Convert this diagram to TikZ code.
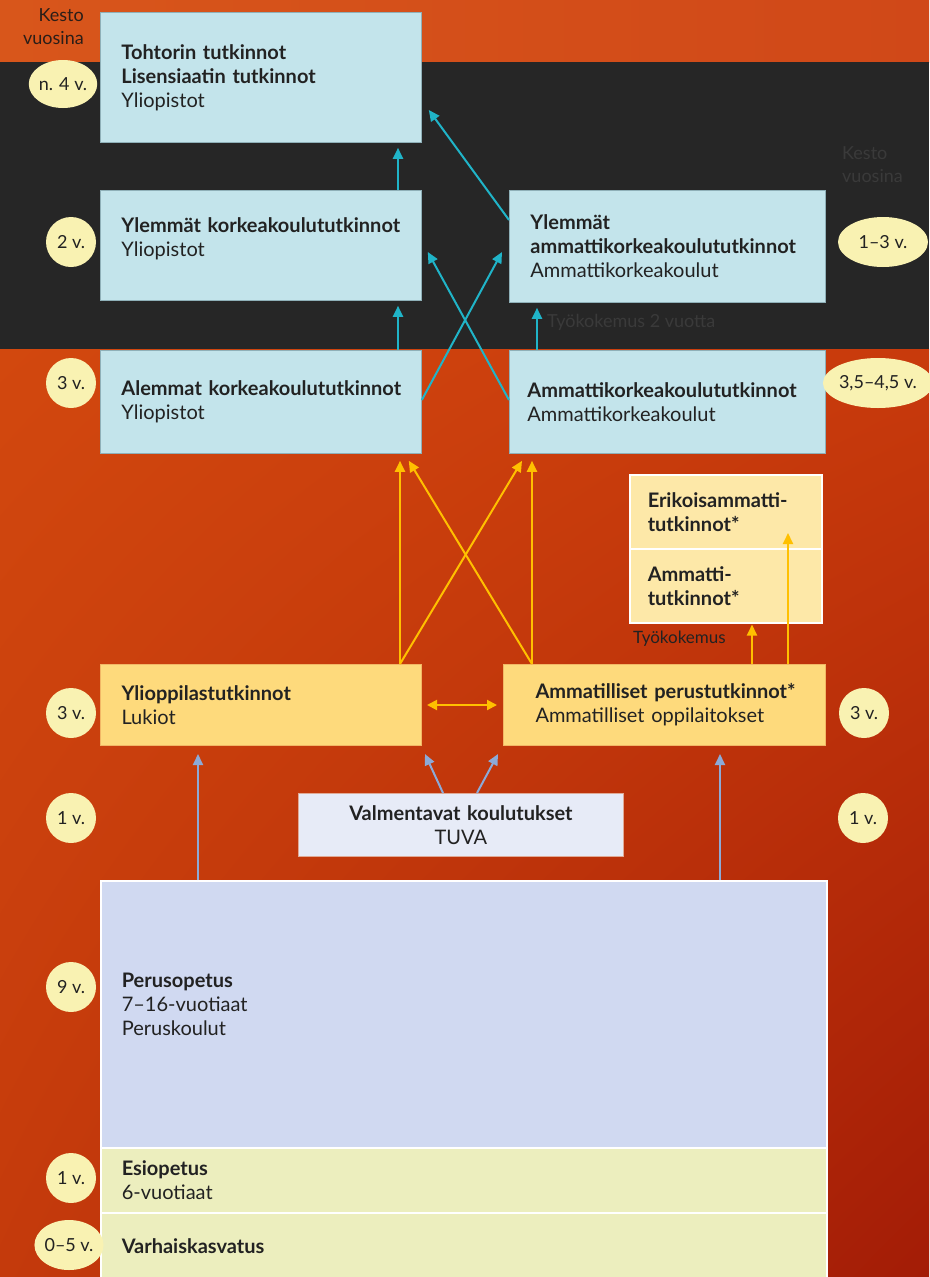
\documentclass[tikz,border=0pt]{standalone}
\usepackage{fontspec}
\setmainfont{Lato}
\usetikzlibrary{arrows.meta,calc,shapes.geometric,shadings}
\definecolor{cyanbox}{HTML}{C3E4EB}
\definecolor{cyanedge}{HTML}{8FB0B8}
\definecolor{yelbox}{HTML}{FEDA7C}
\definecolor{yeledge}{HTML}{F2B766}
\definecolor{paleyel}{HTML}{FDE8A8}
\definecolor{valmbox}{HTML}{E7EBF7}
\definecolor{valmedge}{HTML}{E0AA96}
\definecolor{perubox}{HTML}{D0D9F1}
\definecolor{esibox}{HTML}{ECEEBE}
\definecolor{ellfill}{HTML}{F9F2B2}
\definecolor{txt}{HTML}{222222}
\definecolor{darkband}{HTML}{262626}
\definecolor{teal}{HTML}{20B4C8}
\definecolor{gold}{HTML}{FFC000}
\definecolor{bluearr}{HTML}{8CAAD8}
\definecolor{faint}{HTML}{3A3A3A}
\definecolor{kestotxt}{HTML}{2B1E18}
\definecolor{topL}{HTML}{D8561B}
\definecolor{topR}{HTML}{D04818}
\definecolor{bgUL}{HTML}{D2480E}
\definecolor{bgUR}{HTML}{C83A0C}
\definecolor{bgLL}{HTML}{C43A0C}
\definecolor{bgLR}{HTML}{A31C06}
\newcommand{\plainline}[1]{\mbox{#1}}
\newcommand{\boldline}[1]{\mbox{\textbf{#1}}}
\tikzset{
  box/.style={rectangle, anchor=north west, inner ysep=0pt, align=left,
    font=\fontsize{20}{24}\selectfont, text=txt},
  cbox/.style={box, fill=cyanbox, draw=cyanedge, line width=0.8pt},
  ybox/.style={box, fill=yelbox, draw=yeledge, line width=1pt},
  pbox/.style={box, fill=paleyel, draw=white, line width=1.5pt},
  wbox/.style={box, draw=white, line width=1.5pt},
  dur/.style={ellipse, fill=ellfill, inner sep=0pt, text=txt,
    font=\fontsize{18}{20}\selectfont, minimum width=50pt, minimum height=50pt},
  tarr/.style={draw=teal, line width=2pt, -{Triangle[length=11pt,width=10pt]}},
  yarr/.style={draw=gold, line width=2pt, -{Triangle[length=11pt,width=10pt]}},
  barr/.style={draw=bluearr, line width=2pt, -{Triangle[length=11pt,width=10pt]}},
  side/.style={font=\fontsize{18}{23}\selectfont, inner sep=0pt}
}
\begin{document}
\begin{tikzpicture}[x=1pt,y=-1pt]
\useasboundingbox (0,0) rectangle (929,1277);
% background
\shade[left color=topL, right color=topR] (0,0) rectangle (929,62);
\fill[darkband] (0,62) rectangle (929,349);
\shade[upper left=bgUL, upper right=bgUR, lower left=bgLL, lower right=bgLR] (0,349) rectangle (929,1277);

% side labels
\node[side, text=kestotxt, align=right, anchor=north east] (kesto1) at (84,8) {Kesto\\vuosina};
\node[side, text=faint, align=left, anchor=north west] (kesto2) at (842,146) {Kesto\\vuosina};

% boxes
\node[cbox, text width=279pt, inner xsep=21pt, minimum height=130pt] (toht) at (100,12)
  {\boldline{Tohtorin tutkinnot}\\\boldline{Lisensiaatin tutkinnot}\\\plainline{Yliopistot}};
\node[cbox, text width=279pt, inner xsep=21pt, minimum height=110pt] (ylk) at (100,190)
  {\boldline{Ylemmät korkeakoulututkinnot}\\\plainline{Yliopistot}\\[-8pt]\mbox{}};
\node[cbox, text width=274pt, inner xsep=21pt, minimum height=112pt] (yamk) at (509,190)
  {\boldline{Ylemmät}\\\boldline{ammattikorkeakoulututkinnot}\\\plainline{Ammattikorkeakoulut}};
\node[cbox, text width=279pt, inner xsep=21pt, minimum height=103pt] (alk) at (100,350)
  {\boldline{Alemmat korkeakoulututkinnot}\\\plainline{Yliopistot}};
\node[cbox, text width=280pt, inner xsep=18pt, minimum height=103pt] (amk) at (509,350)
  {\boldline{Ammattikorkeakoulututkinnot}\\\plainline{Ammattikorkeakoulut}};
\node[pbox, text width=156pt, inner xsep=18pt, minimum height=74pt] (erik) at (629,474)
  {\boldline{Erikoisammatti-}\\\boldline{tutkinnot*}};
\node[pbox, text width=156pt, inner xsep=18pt, minimum height=74pt] (amt) at (629,548)
  {\boldline{Ammatti-}\\\boldline{tutkinnot*}};
\node[ybox, text width=279pt, inner xsep=21pt, minimum height=81pt] (ylo) at (100,664)
  {\boldline{Ylioppilastutkinnot}\\\plainline{Lukiot}};
\node[ybox, text width=258pt, inner xsep=32pt, minimum height=81pt] (amp) at (503,664)
  {\boldline{Ammatilliset perustutkinnot*}\\\plainline{Ammatilliset oppilaitokset}};
\node[box, fill=valmbox, draw=valmedge, line width=0.8pt,
  align=center, text width=305pt, inner xsep=10pt, minimum height=63pt] (valm) at (298,793)
  {\boldline{Valmentavat koulutukset}\\TUVA};
\node[wbox, fill=perubox, text width=684pt, inner xsep=21pt, minimum height=267pt] (peru) at (100,880)
  {\boldline{Perusopetus}\\\plainline{7–16-vuotiaat}\\\plainline{Peruskoulut}\\[-5pt]\mbox{}};
\node[wbox, fill=esibox, text width=684pt, inner xsep=21pt, minimum height=65pt] (esi) at (100,1147)
  {\boldline{Esiopetus}\\\plainline{6-vuotiaat}};
\node[wbox, fill=esibox, text width=684pt, inner xsep=21pt, minimum height=66pt] (varh) at (100,1212)
  {\boldline{Varhaiskasvatus}};

% durations
\node[dur, minimum width=63pt, minimum height=48pt] (d1) at (63,84) {n. 4 v.};
\node[dur] (d2) at (71,242) {2 v.};
\node[dur] (d3) at (71,383) {3 v.};
\node[dur] (d4) at (71,713) {3 v.};
\node[dur] (d5) at (71,818) {1 v.};
\node[dur] (d6) at (71,987) {9 v.};
\node[dur] (d7) at (71,1178) {1 v.};
\node[dur] (d8) at (69,1245) {0–5 v.};
\node[dur, minimum width=90pt] (d9) at (883,242) {1–3 v.};
\node[dur, minimum width=90pt] (d10) at (878,383) {3,5–4,5 v.};
\node[dur] (d11) at (864,713) {3 v.};
\node[dur] (d12) at (863,818) {1 v.};

% teal arrows
\draw[tarr] ($(ylk.north west)+(298,0)$) -- ($(toht.south west)+(298,5)$);
\draw[tarr] ($(yamk.north west)+(0,30)$) -- ($(toht.north east)+(7,98)$);
\draw[tarr] ($(alk.north west)+(298,0)$) -- ($(ylk.south west)+(298,5)$);
\draw[tarr] ($(alk.north east)+(0,50)$) -- ($(yamk.north west)+(-7,62)$);
\draw[tarr] ($(amk.north west)+(0,50)$) -- ($(ylk.north east)+(6,62)$);
\draw[tarr] ($(amk.north west)+(28,0)$) -- ($(yamk.south west)+(28,5)$);
\node[side, text=faint, anchor=base west] (tyo2) at (547,327) {Työkokemus 2 vuotta};

% yellow arrows
\draw[yarr] ($(ylo.north west)+(300,0)$) -- ($(alk.south west)+(300,7)$);
\draw[yarr] ($(amp.north west)+(29,0)$) -- ($(alk.south east)+(-13,7)$);
\draw[yarr] ($(ylo.north west)+(300,0)$) -- ($(amk.south west)+(13,7)$);
\draw[yarr] ($(amp.north west)+(29,0)$) -- ($(amk.south west)+(23,7)$);
\draw[draw=gold, line width=2pt, {Triangle[length=10pt,width=10pt]}-{Triangle[length=10pt,width=10pt]}]
  ($(ylo.east)+(5,0)$) -- ($(amp.west)+(-6,0)$);
\draw[yarr] ($(amp.north west)+(249,0)$) -- ($(amt.south west)+(123,1)$);
\coordinate (erikin) at ($(erik.north west)+(159,59)$);
\draw[yarr] ($(amp.north west)+(285,0)$) -- (erikin);
\node[font=\fontsize{17}{20}\selectfont, text=txt, inner sep=0pt, anchor=base west] (tyo) at (633,643) {Työkokemus};

% blue arrows
\draw[barr] ($(peru.north west)+(98,0)$) -- ($(ylo.south west)+(98,8)$);
\draw[barr] ($(valm.north west)+(145,0)$) -- ($(ylo.south east)+(3,8)$);
\draw[barr] ($(valm.north west)+(179,0)$) -- ($(amp.south west)+(-5,8)$);
\draw[barr] ($(peru.north west)+(620,0)$) -- ($(amp.south west)+(217,8)$);
\end{tikzpicture}
\end{document}
